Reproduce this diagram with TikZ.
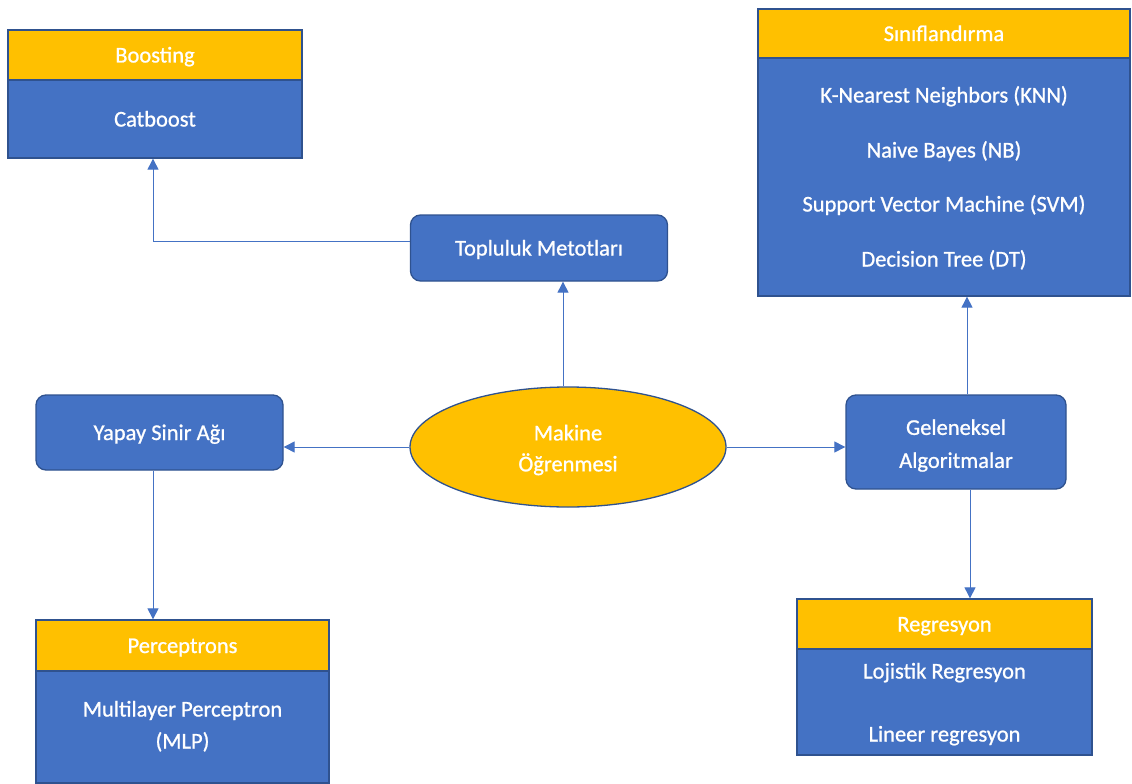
\documentclass[tikz,border=0pt]{standalone}
\usepackage{fontspec}
\setmainfont{Carlito}[BoldFont=Carlito,BoldFeatures={FakeBold=0.9}]
\usetikzlibrary{shapes.geometric,arrows.meta,calc}
\definecolor{boxblue}{HTML}{4472C4}
\definecolor{boxgold}{HTML}{FFC000}
\definecolor{edgeblue}{HTML}{2F528F}
\tikzset{
  txtbase/.style={text=white,font=\fontsize{22.5}{31}\selectfont\bfseries,align=center},
  lbl/.style={txtbase,text height=18pt,text depth=3pt},
  hdr/.style={lbl,draw=edgeblue,line width=1.3pt,fill=boxgold,inner sep=0pt},
  body/.style={lbl,draw=edgeblue,line width=1.3pt,fill=boxblue,inner sep=0pt},
  rbox/.style={body,rounded corners=10pt},
  itemtxt/.style={lbl,inner sep=0pt,anchor=center},
  twoline/.style={txtbase,inner sep=0pt,anchor=center},
  arr/.style={draw=boxblue,line width=1pt,-{Triangle[length=11pt,width=11pt]}}
}
\begin{document}
\begin{tikzpicture}[x=1pt,y=-1pt]
\useasboundingbox (0,0) rectangle (1132,784);

% Boosting group
\node[hdr,minimum width=294,minimum height=50] (boostH) at (155,55) {Boosting};
\node[body,minimum width=294,minimum height=78] (boostB) at (155,119) {Catboost};

% Ensemble methods
\node[rbox,minimum width=257,minimum height=66] (topl) at (539,248) {Topluluk Metotları};

% Neural network
\node[rbox,minimum width=247,minimum height=75] (yapay) at (159.5,432.5) {Yapay Sinir Ağı};

% Central concept
\node[ellipse,draw=edgeblue,line width=1.3pt,fill=boxgold,minimum width=316,minimum height=120,inner sep=0pt] (ml) at (568,447) {};
\node[twoline] (mltxt) at (568,450) {Makine\\Öğrenmesi};

% Traditional algorithms
\node[body,rounded corners=10pt,minimum width=220,minimum height=94] (gel) at (956,442) {};
\node[twoline] (geltxt) at (956,445.5) {Geleneksel\\[2pt]Algoritmalar};

% Classification group
\node[hdr,minimum width=372,minimum height=49] (sinH) at (944,33.5) {Sınıflandırma};
\node[body,minimum width=372,minimum height=238] (sinB) at (944,177) {};
\node[itemtxt] (knn) at (944,95) {K-Nearest Neighbors (KNN)};
\node[itemtxt] (nb) at (944,150) {Naive Bayes (NB)};
\node[itemtxt] (svm) at (944,204) {Support Vector Machine (SVM)};
\node[itemtxt] (dt) at (944,259) {Decision Tree (DT)};

% Regression group
\node[hdr,minimum width=295,minimum height=50] (regH) at (944.5,624) {Regresyon};
\node[body,minimum width=295,minimum height=106] (regB) at (944.5,702) {};
\node[itemtxt] (lojr) at (944.5,671) {Lojistik Regresyon};
\node[itemtxt] (linr) at (944.5,734) {Lineer regresyon};

% Perceptron group
\node[hdr,minimum width=293,minimum height=51] (percH) at (182.5,645.5) {Perceptrons};
\node[body,minimum width=293,minimum height=112] (percB) at (182.5,727) {};
\node[itemtxt] (mlp1) at (182.5,709) {Multilayer Perceptron};
\node[itemtxt] (mlp2) at (182.5,741) {(MLP)};

% Connectors
\draw[arr] ([yshift=7pt]topl.west) -| ([xshift=-2pt]boostB.south);
\draw[arr] ([xshift=-5pt]ml.north) -- ([xshift=-5pt]ml.north |- topl.south);
\draw[arr] (ml.west) -- (yapay.east |- ml.west);
\draw[arr] (ml.east) -- (gel.west |- ml.east);
\draw[arr] ([xshift=-6.5pt]yapay.south) -- ([xshift=-6.5pt]yapay.south |- percH.north);
\draw[arr] ([xshift=11pt]gel.north) -- ([xshift=11pt]gel.north |- sinB.south);
\draw[arr] ([xshift=14pt]gel.south) -- ([xshift=14pt]gel.south |- regH.north);
\end{tikzpicture}
\end{document}
